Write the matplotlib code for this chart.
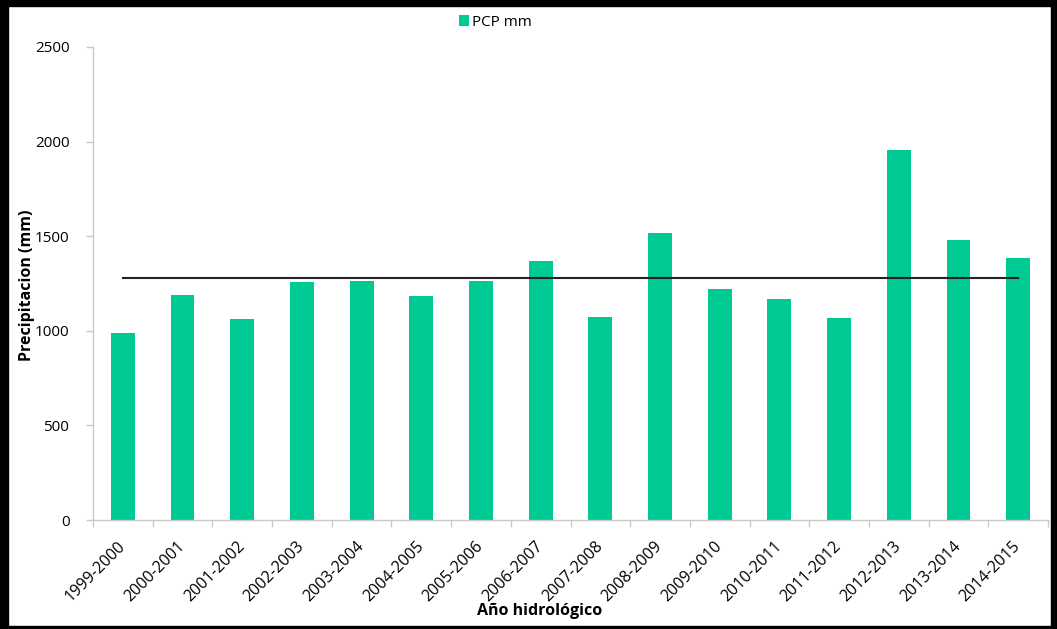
import matplotlib
matplotlib.use("Agg")
import matplotlib.pyplot as plt
from matplotlib.patches import Rectangle
import numpy as np

plt.rcParams['font.family'] = ['Open Sans', 'DejaVu Sans']

# Hydrological years and annual precipitation (mm)
years = ["1999-2000", "2000-2001", "2001-2002", "2002-2003", "2003-2004",
         "2004-2005", "2005-2006", "2006-2007", "2007-2008", "2008-2009",
         "2009-2010", "2010-2011", "2011-2012", "2012-2013", "2013-2014",
         "2014-2015"]
pcp_mm = [990, 1190, 1060, 1260, 1265, 1185, 1265, 1370, 1075, 1515,
          1220, 1170, 1068, 1955, 1480, 1385]

W, H = 1057, 629
fig = plt.figure(figsize=(W / 100, H / 100), dpi=100)
ax = fig.add_axes([93 / W, 1 - 520 / H, (1048 - 93) / W, (520 - 47) / H])

x = np.arange(len(years))
bar_color = "#00C994"
ax.bar(x, pcp_mm, width=0.4, color=bar_color, label="PCP mm", zorder=2)

# Mean precipitation line across the period
mean_pcp = np.mean(pcp_mm)
ax.plot([x[0], x[-1]], [mean_pcp, mean_pcp], color="#222222", lw=1.5, zorder=3)

ax.set_xlim(-0.5, len(years) - 0.5)
ax.set_ylim(0, 2500)
ax.set_yticks(np.arange(0, 2501, 500))

ax.set_xticks(x)
ax.set_xticklabels(years, rotation=45, ha="right", va="center",
                   rotation_mode="anchor", fontsize=11.5)
ax.set_xticks(np.arange(-0.5, len(years), 1), minor=True)
ax.tick_params(axis="x", which="major", length=0, pad=17)
ax.tick_params(axis="x", which="minor", length=5, color="#c8c8c8", width=1)
ax.tick_params(axis="y", length=5, color="#c8c8c8", width=1, labelsize=11,
               pad=12)

for s in ["top", "right"]:
    ax.spines[s].set_visible(False)
for s in ["left", "bottom"]:
    ax.spines[s].set_color("#c8c8c8")
    ax.spines[s].set_linewidth(1)

ax.set_ylabel("Precipitacion (mm)", fontsize=11.5, fontweight="bold")
ax.set_xlabel("Año hidrológico", fontsize=11.5, fontweight="bold")
ax.yaxis.set_label_coords((27 - 93) / (1048 - 93), (520 - 285) / (520 - 47))
ax.xaxis.set_label_coords((540 - 93) / (1048 - 93), -(611 - 520) / (520 - 47))
ax.xaxis.label.set_va("center")
ax.yaxis.label.set_va("center")

leg = fig.legend(loc="center", bbox_to_anchor=(495 / W, 1 - 22 / H),
                 frameon=False, fontsize=11, handlelength=0.7, handleheight=0.7,
                 handletextpad=0.15, borderpad=0)

# Black frame around the figure
for (x0, y0, w, h) in [(0, 0, 8, H), (0, H - 6, W, 6), (W - 6, 0, 6, H), (0, 0, W, 3)]:
    fig.patches.append(Rectangle((x0 / W, y0 / H), w / W, h / H,
                                 transform=fig.transFigure, color="black",
                                 zorder=10))

fig.savefig("out.png", dpi=100)
